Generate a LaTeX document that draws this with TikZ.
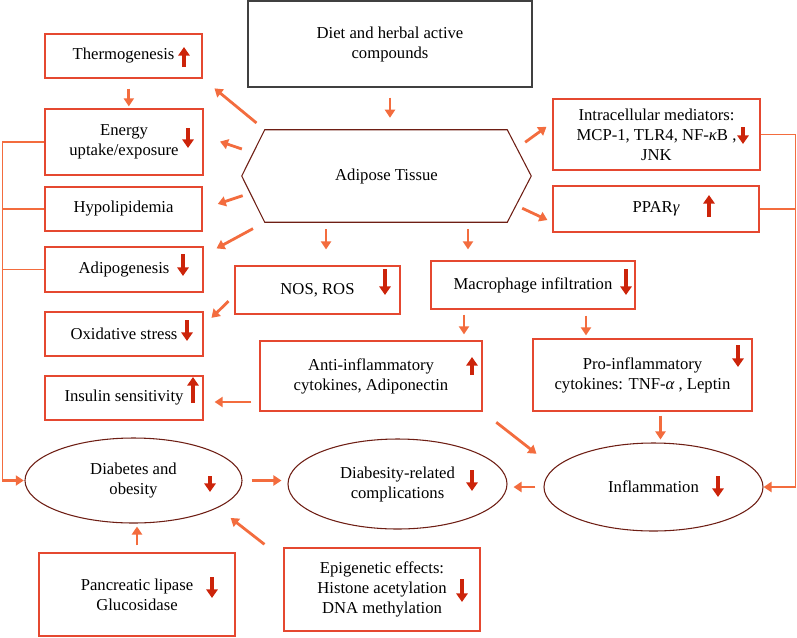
\documentclass[tikz,border=0pt]{standalone}
\usepackage{fontspec}
\setmainfont{Liberation Serif}
\usetikzlibrary{arrows.meta,calc,shapes.geometric}
\definecolor{boxc}{RGB}{229,72,48}
\definecolor{arrc}{RGB}{243,108,62}
\definecolor{indc}{RGB}{204,36,10}
\definecolor{ellc}{RGB}{110,30,20}
\begin{document}
\begin{tikzpicture}[x=0.75pt,y=-0.75pt, font=\fontsize{12.5}{15}\selectfont,
 box/.style={draw=boxc, line width=0.9pt, inner sep=0pt, align=center},
 pbox/.style 2 args={box, minimum width=#1*0.75pt, minimum height=#2*0.75pt},
 ell/.style={ellipse, draw=ellc, line width=0.8pt, inner sep=0pt, align=center},
 arr/.style={draw=arrc, line width=2.1pt, -{Triangle[length=6pt,width=7.5pt]}},
 ind/.style={draw=indc, line width=2.6pt, -{Triangle[length=6.5pt,width=8.5pt]}},
 brk/.style={draw=arrc, line width=0.8pt}]
\useasboundingbox (0,0) rectangle (797,637);

% boxes
\node[pbox={284}{86}, draw=black!75] (diet) at (390,44) {Diet and herbal active\\compounds};
\node[pbox={157}{44}] (thermo) at (123.5,56) {Thermogenesis};
\node[pbox={158}{66}] (energy) at (124,142) {Energy\\uptake/exposure};
\node[pbox={157}{44}] (hypo) at (123.5,209) {Hypolipidemia};
\node[pbox={158}{45}] (adipog) at (124,269.5) {Adipogenesis};
\node[pbox={158}{44}] (oxid) at (124,334) {Oxidative stress};
\node[pbox={158}{44}] (insulin) at (124,398) {Insulin sensitivity};
\node[pbox={165}{48}] (nos) at (317.5,290) {NOS, ROS};
\node[pbox={222}{70}] (anti) at (371,376) {Anti-inflammatory\\cytokines, Adiponectin};
\node[pbox={204}{48}] (macro) at (533,285) {Macrophage infiltration};
\node[pbox={219}{72}] (pro) at (642.5,375) {Pro-inflammatory\\cytokines: TNF-{\itshape α} , Leptin};
\node[pbox={207}{71}] (intra) at (656.5,134.5) {Intracellular mediators:\\MCP-1, TLR4, NF-{\itshape κ}B ,\\JNK};
\node[pbox={206}{46}] (ppar) at (656,209) {PPAR{\itshape γ}};
\node[pbox={196}{83}] (panc) at (137,594.5) {Pancreatic lipase\\Glucosidase};
\node[pbox={196}{83}] (epi) at (382,589.5) {Epigenetic effects:\\Histone acetylation\\DNA methylation};

% adipose hexagon
\node[inner sep=0pt, minimum width=289*0.75pt, minimum height=92*0.75pt] (adip) at (386.5,176) {Adipose Tissue};
\coordinate (hw) at (adip.west);
\coordinate (he) at (adip.east);
\coordinate (hnw) at ([xshift=17.25pt]adip.north west);
\coordinate (hne) at ([xshift=-18pt]adip.north east);
\coordinate (hsw) at ([xshift=17.25pt]adip.south west);
\coordinate (hse) at ([xshift=-18pt]adip.south east);
\draw[draw=ellc, line width=0.8pt] (hw) -- (hnw) -- (hne) -- (he) -- (hse) -- (hsw) -- cycle;

% ellipses
\node[ell, minimum width=162.75pt, minimum height=63.75pt] (dob) at (133.5,480.5) {Diabetes and\\obesity};
\node[ell, minimum width=164.25pt, minimum height=67.5pt] (dbs) at (397.5,484) {Diabesity-related\\complications};
\node[ell, minimum width=164.25pt, minimum height=66pt] (infl) at (653.5,487) {Inflammation};

% connectors
\draw[arr, shorten <=7.5pt, shorten >=9pt] (diet.south) -- (diet.south |- hnw);
\coordinate (thx) at ([xshift=4pt]thermo.south);
\draw[arr, shorten <=7.5pt, shorten >=1.5pt] (thx) -- (thx |- energy.north);
\draw[arr, shorten <=8pt, shorten >=11.5pt] (hnw) -- (thermo.south east);
\draw[arr, shorten <=9pt, shorten >=13pt] ($(hw)!0.5!(hnw)$) -- ([yshift=4.5pt]energy.east);
\draw[arr, shorten <=6pt, shorten >=12pt] ($(hw)!0.37!(hsw)$) -- (hypo.east);
\draw[arr, shorten <=10pt, shorten >=11pt] (hsw) -- ([yshift=-6.75pt]adipog.north east);
\coordinate (nosx) at ([xshift=6.4pt]nos.north);
\draw[arr, shorten <=5.25pt, shorten >=12pt] (nosx |- adip.south) -- (nosx);
\coordinate (mac1) at ([xshift=-48.75pt]macro.north);
\draw[arr, shorten <=5.25pt, shorten >=8.25pt] (mac1 |- adip.south) -- (mac1);
\draw[arr, shorten <=7.7pt, shorten >=5.5pt] ($(hne)!0.4!(he)$) -- ([yshift=9pt]intra.west);
\draw[arr, shorten <=5.1pt, shorten >=4.1pt] ($(he)!0.634!(hse)$) -- ([yshift=-10pt]ppar.west);
\draw[arr, shorten <=6.2pt, shorten >=8.3pt] ([yshift=-4pt]nos.west) -- ([yshift=6.3pt]oxid.east);
\coordinate (insr) at ([yshift=-3pt]insulin.east);
\draw[arr, shorten <=6pt, shorten >=8.25pt] (insr -| anti.west) -- (insr);
\coordinate (mac2) at ([xshift=-51.75pt]macro.south);
\draw[arr, shorten <=3.75pt, shorten >=4.5pt] (mac2) -- (mac2 |- anti.north);
\coordinate (mac3) at ([xshift=39.75pt]macro.south);
\draw[arr, shorten <=4.5pt, shorten >=2.25pt] (mac3) -- (mac3 |- pro.north);
\coordinate (prox) at ([xshift=13.5pt]pro.south);
\draw[arr, shorten <=3pt, shorten >=2.25pt] (prox) -- (prox |- infl.north);
\draw[arr, shorten <=13pt, shorten >=17pt] (anti.south east) -- (infl.169);
\draw[arr, shorten <=6pt, shorten >=4.5pt] (infl.west) -- (infl.west -| dbs.east);
\draw[arr, shorten <=6.75pt, shorten >=4.5pt] (dob.east) -- (dob.east -| dbs.west);
\draw[arr, shorten <=5.25pt, shorten >=2.25pt] (panc.north) -- (panc.north |- dob.south);
\draw[arr, shorten <=3.75pt, shorten >=12.3pt] ([xshift=-11.25pt]epi.north west) -- (dob.-18);

% left bracket
\coordinate (lb) at ([xshift=-31.5pt]energy.west);
\draw[brk] (energy.west) -- (lb) -- (lb |- dob.west);
\draw[brk] (hypo.west) -- (hypo.west -| lb);
\draw[brk] (adipog.west) -- (adipog.west -| lb);
\draw[arr, shorten >=0.5pt] (lb |- dob.west) -- (dob.west);

% right bracket
\coordinate (rb) at ([xshift=26.25pt]intra.east);
\draw[brk] (intra.east) -- (rb) -- (rb |- infl.east);
\draw[brk] (ppar.east) -- (ppar.east -| rb);
\draw[arr] (rb |- infl.east) -- (infl.east);

% indicator arrows
\draw[ind] (184,67) -- (184,47);
\draw[ind] (188,128) -- (188,148);
\draw[ind] (183,254) -- (183,276);
\draw[ind] (187,320) -- (187,341);
\draw[ind] (193,403) -- (193,377);
\draw[ind] (385,269) -- (385,295);
\draw[ind] (626,269) -- (626,295);
\draw[ind] (472,375) -- (472,357);
\draw[ind] (738,345) -- (738,367);
\draw[ind] (743,127) -- (743,144);
\draw[ind] (709,217) -- (709,195);
\draw[ind] (210,476) -- (210,492);
\draw[ind] (472,470) -- (472,491);
\draw[ind] (718,476) -- (718,497);
\draw[ind] (212,577) -- (212,598);
\draw[ind] (462,579) -- (462,602);
\end{tikzpicture}
\end{document}
